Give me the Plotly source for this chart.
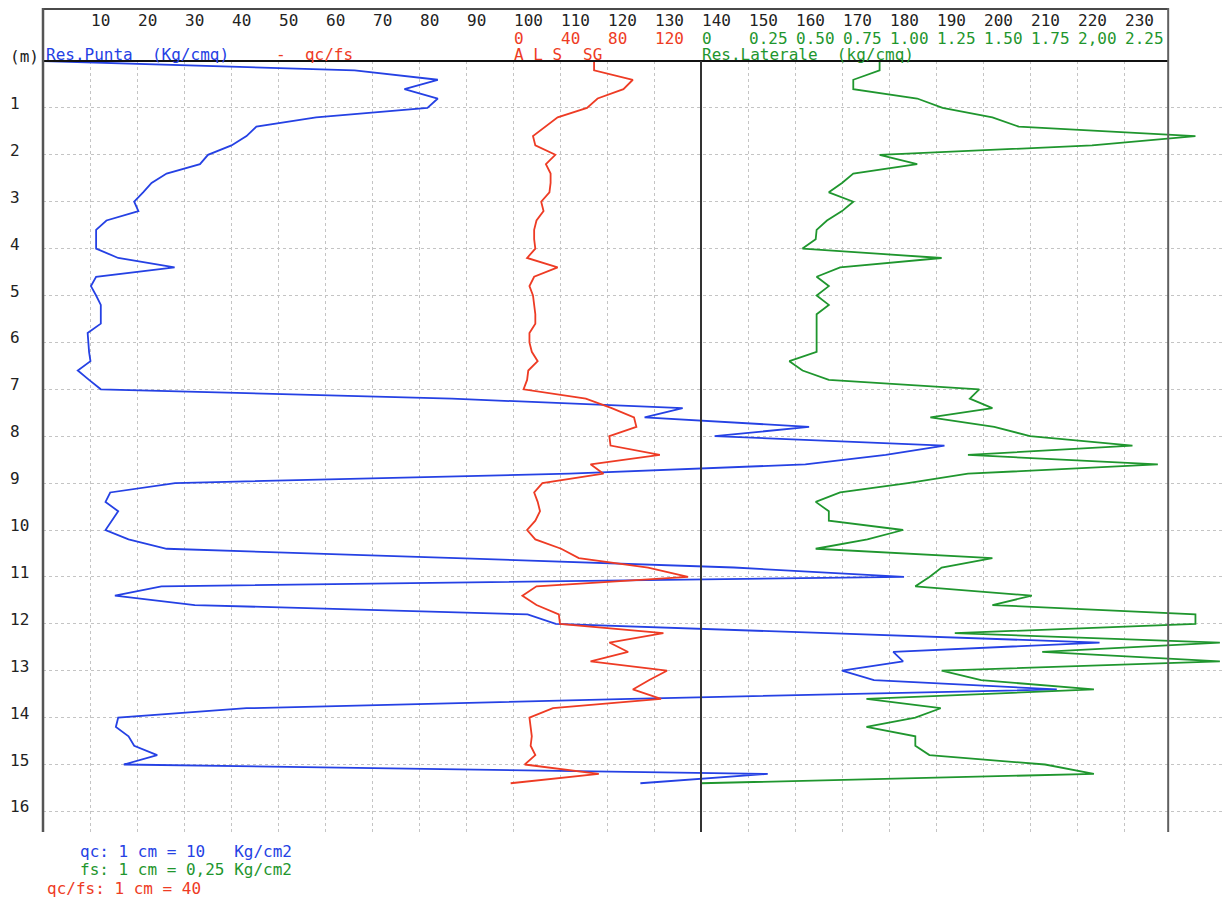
import plotly.graph_objects as go

# ---------------------------------------------------------------------------
# CPT sounding data (one reading every 0.2 m)
# ---------------------------------------------------------------------------
depth_m = [
    0.0, 0.2, 0.4, 0.6, 0.8, 1.0, 1.2, 1.4, 1.6, 1.8,
    2.0, 2.2, 2.4, 2.6, 2.8, 3.0, 3.2, 3.4, 3.6, 3.8,
    4.0, 4.2, 4.4, 4.6, 4.8, 5.0, 5.2, 5.4, 5.6, 5.8,
    6.0, 6.2, 6.4, 6.6, 6.8, 7.0, 7.2, 7.4, 7.6, 7.8,
    8.0, 8.2, 8.4, 8.6, 8.8, 9.0, 9.2, 9.4, 9.6, 9.8,
    10.0, 10.2, 10.4, 10.6, 10.8, 11.0, 11.2, 11.4, 11.6, 11.8,
    12.0, 12.2, 12.4, 12.6, 12.8, 13.0, 13.2, 13.4, 13.6, 13.8,
    14.0, 14.2, 14.4, 14.6, 14.8, 15.0, 15.2, 15.4,
]

# Tip resistance qc (Kg/cm2)
qc_kg_cm2 = [
    0.0, 66.3, 84.0, 76.9, 84.0, 81.8, 58.1, 45.4, 43.3, 40.1,
    35.1, 33.4, 26.3, 23.1, 21.3, 19.4, 20.3, 13.5, 11.3, 11.3,
    11.3, 16.0, 28.0, 11.3, 10.2, 11.3, 12.3, 12.3, 12.3, 9.5,
    9.6, 9.8, 10.1, 7.4, 9.8, 12.3, 87.0, 136.1, 128.0, 163.0,
    142.9, 191.8, 179.3, 162.2, 112.0, 28.1, 14.3, 13.3, 16.0, 14.7,
    13.3, 18.2, 26.3, 88.0, 147.0, 183.2, 25.2, 15.3, 32.3, 103.1,
    109.1, 167.0, 224.8, 180.9, 183.0, 170.0, 176.8, 215.7, 125.0, 43.3,
    16.0, 15.5, 18.2, 19.4, 24.3, 17.2, 154.2, 127.1,
]

# Friction ratio qc/fs
qc_fs_ratio = [
    69, 69, 102, 94, 72, 63, 38, 28, 17, 19,
    36, 28, 32, 32, 31, 24, 26, 20, 18, 18,
    19, 12, 38, 18, 14, 17, 18, 19, 19, 14,
    14, 16, 21, 13, 12, 9, 62, 84, 103, 105,
    82, 83, 125, 66, 77, 25, 18, 21, 23, 19,
    12, 19, 41, 56, 115, 149, 20, 8, 20, 39,
    40, 128, 82, 98, 66, 131, 116, 102, 126, 34,
    14, 15, 16, 15, 19, 10, 73, -2,
]

# Lateral (sleeve) resistance fs (Kg/cm2)
fs_kg_cm2 = [
    0.95, 0.95, 0.81, 0.81, 1.15, 1.285, 1.55, 1.69, 2.63, 2.08,
    0.95, 1.15, 0.81, 0.75, 0.68, 0.81, 0.75, 0.67, 0.615, 0.61,
    0.54, 1.28, 0.74, 0.615, 0.68, 0.615, 0.68, 0.615, 0.615, 0.615,
    0.615, 0.615, 0.47, 0.54, 0.68, 1.48, 1.43, 1.55, 1.22, 1.56,
    1.75, 2.295, 1.42, 2.43, 1.42, 1.10, 0.74, 0.61, 0.68, 0.68,
    1.075, 0.885, 0.61, 1.55, 1.28, 1.215, 1.14, 1.76, 1.55, 2.63,
    2.63, 1.35, 2.76, 1.815, 2.76, 1.28, 1.49, 2.09, 0.88, 1.275,
    1.14, 0.88, 1.14, 1.14, 1.215, 1.83, 2.09, 0.0,
]

# Scale labels
qc_tick_vals = [10, 20, 30, 40, 50, 60, 70, 80, 90, 100, 110, 120,
                130, 140, 150, 160, 170, 180, 190, 200, 210, 220, 230]
qc_tick_text = [str(v) for v in qc_tick_vals]
ratio_tick_vals = [0, 40, 80, 120]
ratio_tick_text = ["0", "40", "80", "120"]
fs_tick_vals = [0, 0.25, 0.50, 0.75, 1.00, 1.25, 1.50, 1.75, 2.00, 2.25]
fs_tick_text = ["0", "0.25", "0.50", "0.75", "1.00", "1.25",
                "1.50", "1.75", "2,00", "2.25"]
depth_tick_vals = list(range(0, 17))
depth_tick_text = ["(m)"] + [str(v) for v in range(1, 17)]

# ---------------------------------------------------------------------------
# Page geometry
# ---------------------------------------------------------------------------
W, H = 1224, 910
M_L, M_R, M_T, M_B = 43, 0, 61, 78
PLOT_W = W - M_L - M_R
PLOT_H = H - M_T - M_B
PX_PER_UNIT = 4.7          # px per qc unit on the shared horizontal scale
PX_PER_M = 46.9            # px per metre of depth
X_MAX = PLOT_W / PX_PER_UNIT
Y_MAX = PLOT_H / PX_PER_M
FRAME_X = 239.4            # right border of the log, in qc units

# qc/fs scale: 0 sits on qc=100, 40 ratio units every 10 qc units
RATIO_ORIGIN, RATIO_PER_UNIT = 100.0, 4.0
# fs scale: 0 sits on qc=140, 0.25 Kg/cm2 every 10 qc units
FS_ORIGIN, FS_PER_UNIT = 140.0, 1.0 / 40.0

BLUE = "#2541e4"
RED = "#ee3b24"
GREEN = "#1f962e"
FONT = "DejaVu Sans Mono"
FS = 16
NB = "\u00a0"


def px_x(px):
    return (px - M_L) / PLOT_W


def px_y(py):
    return 1 - (py - M_T) / PLOT_H


def t(s):
    return s.replace(" ", NB)


fig = go.Figure()
fig.add_trace(go.Scatter(x=qc_kg_cm2, y=depth_m, mode="lines",
                         line=dict(color=BLUE, width=1.8),
                         xaxis="x", yaxis="y", name="qc"))
fig.add_trace(go.Scatter(x=qc_fs_ratio, y=depth_m, mode="lines",
                         line=dict(color=RED, width=1.8),
                         xaxis="x2", yaxis="y", name="qc/fs"))
fig.add_trace(go.Scatter(x=fs_kg_cm2, y=depth_m, mode="lines",
                         line=dict(color=GREEN, width=1.8),
                         xaxis="x3", yaxis="y", name="fs"))

hidden_axis = dict(overlaying="x", showgrid=False, zeroline=False,
                   showline=False, showticklabels=False, ticks="")

fig.update_layout(
    width=W, height=H, autosize=False,
    margin=dict(l=M_L, r=M_R, t=M_T, b=M_B, pad=0),
    paper_bgcolor="white", plot_bgcolor="white",
    showlegend=False,
    xaxis=dict(range=[0, X_MAX], tickvals=qc_tick_vals, showticklabels=False,
               ticks="", showgrid=True, gridcolor="#c4c4c4", griddash="dot",
               gridwidth=1, zeroline=False, showline=False),
    xaxis2=dict(range=[(0 - RATIO_ORIGIN) * RATIO_PER_UNIT,
                       (X_MAX - RATIO_ORIGIN) * RATIO_PER_UNIT], **hidden_axis),
    xaxis3=dict(range=[(0 - FS_ORIGIN) * FS_PER_UNIT,
                       (X_MAX - FS_ORIGIN) * FS_PER_UNIT], **hidden_axis),
    yaxis=dict(range=[Y_MAX, 0], tickvals=depth_tick_vals[1:],
               showticklabels=False, ticks="", showgrid=True,
               gridcolor="#c4c4c4", griddash="dot", gridwidth=1,
               zeroline=False, showline=False),
)

frame_right = px_x(M_L + FRAME_X * PX_PER_UNIT)
shapes = [
    # blank the grid to the right of the log frame
    dict(type="rect", xref="x", yref="paper", x0=FRAME_X, x1=X_MAX + 1,
         y0=0, y1=1, fillcolor="white", line=dict(width=0), layer="between"),
    # header box
    dict(type="line", xref="paper", yref="paper", x0=0, x1=frame_right,
         y0=px_y(9), y1=px_y(9), line=dict(color="#4a4a4a", width=2)),
    dict(type="line", xref="paper", yref="paper", x0=0, x1=frame_right,
         y0=1, y1=1, line=dict(color="#111111", width=2)),
    # left depth axis and right border
    dict(type="line", xref="paper", yref="paper", x0=0, x1=0,
         y0=0, y1=px_y(8), line=dict(color="#555555", width=2.5)),
    dict(type="line", xref="x", yref="paper", x0=FRAME_X, x1=FRAME_X,
         y0=0, y1=px_y(8), line=dict(color="#606060", width=2)),
    # origin of the fs scale
    dict(type="line", xref="x3", yref="paper", x0=0, x1=0,
         y0=0, y1=1, line=dict(color="#333333", width=2)),
]
fig.update_layout(shapes=shapes)

ann = []


def label(text, x, y, color, xref="paper", yref="paper", xanchor="left",
          yshift=0, size=FS):
    ann.append(dict(text=t(text), x=x, y=y, xref=xref, yref=yref,
                    xanchor=xanchor, yanchor="middle", showarrow=False,
                    borderpad=0, yshift=yshift,
                    font=dict(family=FONT, size=size, color=color)))


# scale numbers in the header
for v, s in zip(qc_tick_vals, qc_tick_text):
    label(s, v, px_y(21), "#222222", xref="x")
for v, s in zip(ratio_tick_vals, ratio_tick_text):
    label(s, v, px_y(38.5), RED, xref="x2")
for v, s in zip(fs_tick_vals, fs_tick_text):
    label(s, v, px_y(38.5), GREEN, xref="x3")

# curve titles
label("Res.Punta  (Kg/cmq)", px_x(45), px_y(54.5), BLUE)
label("-  qc/fs", px_x(275), px_y(54.5), RED)
label("A L S", 0, px_y(54.5), RED, xref="x2")
label("SG", px_x(582), px_y(54.5), RED)
label("Res.Laterale  (kg/cmq)", 0, px_y(54.5), GREEN, xref="x3")

# depth labels
for v, s in zip(depth_tick_vals, depth_tick_text):
    label(s, px_x(9), v, "#222222", yref="y", yshift=4.5)

# scale notes
label("qc: 1 cm = 10   Kg/cm2", px_x(79), px_y(851.5), BLUE)
label("fs: 1 cm = 0,25 Kg/cm2", px_x(79), px_y(869.5), GREEN)
label("qc/fs: 1 cm = 40", px_x(46), px_y(888), RED)

fig.update_layout(annotations=ann)

fig.write_html("out.html")
